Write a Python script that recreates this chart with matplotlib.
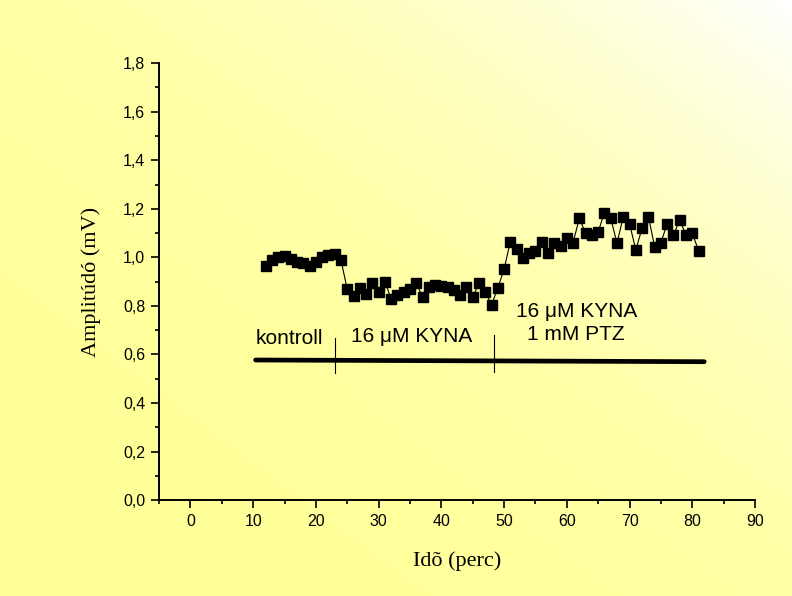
import numpy as np
import matplotlib
matplotlib.use("Agg")
import matplotlib.pyplot as plt
from matplotlib.ticker import MultipleLocator, FuncFormatter

# time (min) and amplitude (mV)
time_min = list(range(12, 82))
amplitude = [
    0.965, 0.99, 1.0, 1.005, 0.992, 0.982, 0.978, 0.965, 0.982, 1.0,
    1.01, 1.013, 0.989,
    0.868, 0.841, 0.873, 0.849, 0.896, 0.859, 0.900, 0.829, 0.845, 0.859,
    0.868, 0.893, 0.838, 0.879, 0.885, 0.882, 0.877, 0.866, 0.845, 0.879,
    0.836, 0.893, 0.859, 0.804, 0.873,
    0.951, 1.065, 1.033, 0.996, 1.019, 1.028, 1.065, 1.017, 1.061, 1.047,
    1.079, 1.061, 1.161, 1.099, 1.092, 1.106, 1.184, 1.161, 1.058, 1.168,
    1.138, 1.031, 1.120, 1.168, 1.044, 1.061, 1.138, 1.092, 1.154, 1.092,
    1.099, 1.028,
]

# treatment bar and phase boundaries
bar_x = [10.4, 81.9]
bar_y = [0.577, 0.570]
phase_edges = [23.1, 48.4]
phase_labels = ["kontroll", "16 \u03bcM KYNA", "16 \u03bcM KYNA\n1 mM PTZ"]

fig = plt.figure(figsize=(7.92, 5.96), dpi=100)

# yellow -> white diagonal background
bg = fig.add_axes([0, 0, 1, 1], zorder=-10)
gx, gy = np.meshgrid(np.linspace(0, 1, 300), np.linspace(0, 1, 300))
t = np.clip((gx + gy) / 2, 0, 1) ** 3
yellow = np.array([255, 255, 153]) / 255
white = np.array([1.0, 1.0, 1.0])
img = yellow[None, None, :] * (1 - t[..., None]) + white[None, None, :] * t[..., None]
bg.imshow(img, origin="lower", aspect="auto", extent=[0, 1, 0, 1])
bg.axis("off")

ax = fig.add_axes([0.2008, 0.161, 0.7525, 0.733])
ax.patch.set_alpha(0)

ax.plot(time_min, amplitude, color="black", lw=0.8, marker="s",
        markersize=6.5, markerfacecolor="black", markeredgecolor="black")

ax.plot(bar_x, bar_y, color="black", lw=3.4, solid_capstyle="round")
ax.plot([phase_edges[0]] * 2, [0.523, 0.668], color="black", lw=0.8)
ax.plot([phase_edges[1]] * 2, [0.529, 0.680], color="black", lw=0.8)

txt = dict(fontsize=15, family=["Liberation Sans", "DejaVu Sans"], color="black")
ax.text(10.4, 0.667, phase_labels[0], ha="left", va="center", **txt)
ax.text(35.3, 0.672, phase_labels[1], ha="center", va="center", **txt)
ax.text(61.5, 0.73, phase_labels[2], ha="center", va="center",
        linespacing=1.3, **txt)

ax.set_xlim(-5, 90)
ax.set_ylim(0, 1.8)
ax.xaxis.set_major_locator(MultipleLocator(10))
ax.xaxis.set_minor_locator(MultipleLocator(5))
ax.yaxis.set_major_locator(MultipleLocator(0.2))
ax.yaxis.set_minor_locator(MultipleLocator(0.1))
ax.yaxis.set_major_formatter(FuncFormatter(lambda v, p: f"{v:.1f}".replace(".", ",")))

for s in ["top", "right"]:
    ax.spines[s].set_visible(False)
for s in ["left", "bottom"]:
    ax.spines[s].set_linewidth(1.4)

ax.tick_params(which="major", direction="out", length=6, width=1.2,
               labelsize=11.5, pad=4)
ax.tick_params(which="minor", direction="out", length=3, width=1.2)
for lab in ax.get_xticklabels() + ax.get_yticklabels():
    lab.set_family("Liberation Sans")

ax.set_xlabel("Idõ (perc)", family="Liberation Serif", fontsize=16, labelpad=16)
ax.set_ylabel("Amplitúdó (mV)", family="Liberation Serif", fontsize=16, labelpad=16)

fig.savefig("out.png", dpi=100)
